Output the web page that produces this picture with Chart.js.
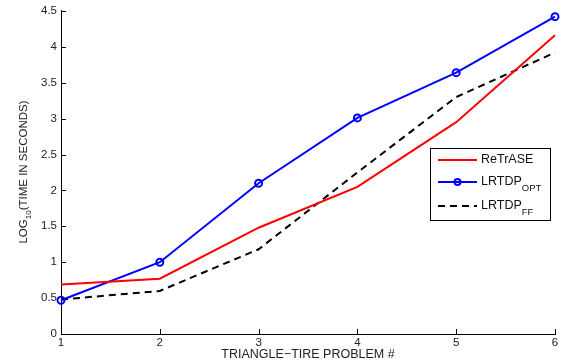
<!DOCTYPE html>
<html>
<head>
<meta charset="utf-8">
<script src="https://cdn.jsdelivr.net/npm/chart.js@4/dist/chart.umd.min.js"></script>
<style>
  html, body { margin: 0; padding: 0; background: #fff; }
  #wrap { width: 561px; height: 362px; position: relative; }
</style>
</head>
<body>
<div id="wrap"><canvas id="chart"></canvas></div>
<script>
// data
const problems = [1, 2, 3, 4, 5, 6];
const retrase = [0.69, 0.77, 1.48, 2.05, 2.95, 4.16];
const lrtdpOpt = [0.47, 1.00, 2.10, 3.01, 3.64, 4.42];
const lrtdpFF = [0.48, 0.60, 1.18, 2.25, 3.30, 3.92];
const yTicks = [0, 0.5, 1, 1.5, 2, 2.5, 3, 3.5, 4, 4.5];

const FONT = '"Liberation Sans", Arial, Helvetica, sans-serif';

function toPoints(vals) {
    return problems.map((p, i) => ({ x: p, y: vals[i] }));
}

// draws inward tick marks, the rotated y title with subscript, and the boxed legend
const matlabDecor = {
    id: 'matlabDecor',
    afterDraw(chart) {
        const ctx = chart.ctx;
        const xs = chart.scales.x;
        const ys = chart.scales.y;
        const area = chart.chartArea;

        ctx.save();
        ctx.strokeStyle = '#000';
        ctx.lineWidth = 1;
        ctx.beginPath();
        yTicks.forEach(v => {
            const py = Math.round(ys.getPixelForValue(v)) + 0.5;
            ctx.moveTo(area.left, py);
            ctx.lineTo(area.left + 5, py);
        });
        problems.forEach(v => {
            const px = Math.round(xs.getPixelForValue(v)) + 0.5;
            ctx.moveTo(px, area.bottom);
            ctx.lineTo(px, area.bottom - 5);
        });
        ctx.stroke();

        // y title: LOG10(TIME IN SECONDS)
        ctx.fillStyle = '#222';
        ctx.translate(27, 172);
        ctx.rotate(-Math.PI / 2);
        ctx.textBaseline = 'alphabetic';
        ctx.textAlign = 'left';
        const parts = [['LOG', 11.5, 0], ['10', 8, 4], ['(TIME IN SECONDS)', 11.5, 0]];
        let total = 0;
        parts.forEach(p => { ctx.font = p[1] + 'px ' + FONT; total += ctx.measureText(p[0]).width; });
        let cx = -total / 2;
        parts.forEach(p => {
            ctx.font = p[1] + 'px ' + FONT;
            ctx.fillText(p[0], cx, p[2]);
            cx += ctx.measureText(p[0]).width;
        });
        ctx.restore();

        // legend box
        ctx.save();
        const bx = 430.5, by = 148.5, bw = 120, bh = 72;
        ctx.fillStyle = '#fff';
        ctx.fillRect(bx, by, bw, bh);
        ctx.strokeStyle = '#000';
        ctx.lineWidth = 1;
        ctx.strokeRect(bx, by, bw, bh);

        const entries = [
            { name: 'ReTrASE', sub: '', color: '#ff0000', dash: [], marker: false, y: 160 },
            { name: 'LRTDP', sub: 'OPT', color: '#0000ff', dash: [], marker: true, y: 182 },
            { name: 'LRTDP', sub: 'FF', color: '#000000', dash: [7, 5], marker: false, y: 206 }
        ];
        entries.forEach(e => {
            ctx.strokeStyle = e.color;
            ctx.lineWidth = 2;
            ctx.setLineDash(e.dash);
            ctx.beginPath();
            ctx.moveTo(438, e.y);
            ctx.lineTo(477, e.y);
            ctx.stroke();
            ctx.setLineDash([]);
            if (e.marker) {
                ctx.beginPath();
                ctx.arc(457.5, e.y, 3, 0, Math.PI * 2);
                ctx.stroke();
            }
            ctx.fillStyle = '#111';
            ctx.textBaseline = 'middle';
            ctx.font = '12.5px ' + FONT;
            ctx.fillText(e.name, 481, e.y);
            if (e.sub) {
                const w = ctx.measureText(e.name).width;
                ctx.font = '9.5px ' + FONT;
                ctx.fillText(e.sub, 481 + w, e.y + 6);
            }
        });
        ctx.restore();
    }
};

const ctx = document.getElementById('chart').getContext('2d');
const chart = new Chart(ctx, {
    type: 'line',
    data: {
        datasets: [
            {
                label: 'ReTrASE',
                data: toPoints(retrase),
                borderColor: '#ff0000',
                borderWidth: 2,
                pointRadius: 0,
                tension: 0,
                clip: false
            },
            {
                label: 'LRTDP_OPT',
                data: toPoints(lrtdpOpt),
                borderColor: '#0000ff',
                borderWidth: 2,
                pointRadius: 3.5,
                pointBorderWidth: 2,
                pointBorderColor: '#0000ff',
                pointBackgroundColor: 'rgba(0,0,0,0)',
                tension: 0,
                clip: false
            },
            {
                label: 'LRTDP_FF',
                data: toPoints(lrtdpFF),
                borderColor: '#000000',
                borderWidth: 2,
                borderDash: [7, 5],
                pointRadius: 0,
                tension: 0,
                clip: false
            }
        ]
    },
    options: {
        responsive: true,
        maintainAspectRatio: false,
        animation: false,
        layout: { padding: { top: 10, right: 6, left: 0, bottom: 0 } },
        plugins: {
            legend: { display: false },
            tooltip: { enabled: false }
        },
        scales: {
            x: {
                type: 'linear',
                min: 1,
                max: 6,
                grid: { display: false, drawTicks: false },
                border: { display: true, color: '#000', width: 1 },
                ticks: {
                    stepSize: 1,
                    color: '#222',
                    padding: 2,
                    font: { family: FONT, size: 11.5 }
                },
                title: {
                    display: true,
                    text: 'TRIANGLE\u2212TIRE PROBLEM #',
                    color: '#222',
                    padding: { top: 0, bottom: 0 },
                    font: { family: FONT, size: 12.5 }
                },
                afterFit(scale) { scale.height = 28; }
            },
            y: {
                min: 0,
                max: 4.5,
                grid: { display: false, drawTicks: false },
                border: { display: true, color: '#000', width: 1 },
                afterBuildTicks(scale) {
                    scale.ticks = yTicks.map(v => ({ value: v }));
                },
                ticks: {
                    color: '#222',
                    padding: 4,
                    font: { family: FONT, size: 11.5 },
                    callback: v => String(v)
                },
                afterFit(scale) { scale.width = 61; }
            }
        }
    },
    plugins: [matlabDecor]
});
</script>
</body>
</html>
